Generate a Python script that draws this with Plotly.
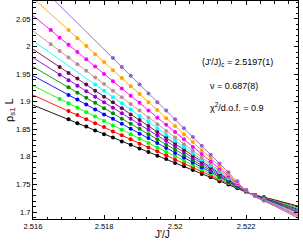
import plotly.graph_objects as go

# ---- data ----
X_GRID = [2.5165, 2.51675, 2.517, 2.51725, 2.5175, 2.51775, 2.518, 2.51825, 2.5185, 2.51875,
          2.519, 2.51925, 2.5195, 2.51975, 2.52, 2.52025, 2.5205, 2.52075, 2.521, 2.52125,
          2.5215, 2.52175, 2.522, 2.52225, 2.5225]

FIT_X = [2.516, 2.519, 2.5213, 2.5221, 2.5228, 2.52346]

names = ["black", "red", "green", "blue", "green4", "violet", "maroon", "cyan", "brown",
         "magenta", "orange", "indigo"]
colors = ["#000000", "#FF0000", "#00FF00", "#0000FF", "#008B00", "#9400D3", "#670748",
          "#00FFFF", "#BC8F8F", "#FF00FF", "#FFA500", "#9060D0"]

start_idx = [2, 2, 1, 2, 2, 1, 1, 5, 0, 0, 2, 7]

pts_black = [1.868, 1.861, 1.855, 1.848, 1.841, 1.835, 1.828, 1.822, 1.815, 1.809, 1.802, 1.796,
             1.789, 1.783, 1.776, 1.769, 1.763, 1.756, 1.750, 1.743, 1.737, 1.731, 1.727]
pts_red = [1.883, 1.876, 1.868, 1.861, 1.854, 1.846, 1.839, 1.832, 1.824, 1.817, 1.810, 1.803,
           1.795, 1.788, 1.781, 1.773, 1.766, 1.759, 1.752, 1.744, 1.737, 1.731, 1.727]
pts_green = [1.905, 1.897, 1.889, 1.881, 1.873, 1.865, 1.857, 1.849, 1.841, 1.833, 1.825, 1.817,
             1.809, 1.801, 1.793, 1.785, 1.777, 1.769, 1.761, 1.753, 1.745, 1.737, 1.731, 1.726]
pts_blue = [1.912, 1.904, 1.895, 1.886, 1.877, 1.869, 1.860, 1.851, 1.842, 1.834, 1.825, 1.816,
            1.807, 1.799, 1.790, 1.781, 1.772, 1.764, 1.755, 1.746, 1.738, 1.731, 1.725]
pts_green4 = [1.926, 1.916, 1.907, 1.898, 1.888, 1.879, 1.869, 1.860, 1.851, 1.841, 1.832, 1.822,
              1.813, 1.804, 1.794, 1.785, 1.775, 1.766, 1.757, 1.747, 1.738, 1.731, 1.725]
pts_violet = [1.949, 1.939, 1.929, 1.919, 1.909, 1.899, 1.889, 1.879, 1.869, 1.859, 1.849, 1.839,
              1.829, 1.819, 1.809, 1.798, 1.788, 1.778, 1.768, 1.758, 1.748, 1.738, 1.730, 1.724]
pts_maroon = [1.963, 1.952, 1.942, 1.931, 1.920, 1.909, 1.899, 1.888, 1.877, 1.867, 1.856, 1.845,
              1.835, 1.824, 1.813, 1.802, 1.792, 1.781, 1.770, 1.760, 1.749, 1.738, 1.730, 1.724]
pts_cyan = [1.931, 1.920, 1.908, 1.897, 1.886, 1.874, 1.863, 1.852, 1.840, 1.829, 1.818, 1.806,
            1.795, 1.784, 1.772, 1.761, 1.750, 1.739, 1.730, 1.723]
pts_brown = [2.004, 1.992, 1.980, 1.968, 1.956, 1.944, 1.932, 1.920, 1.908, 1.896, 1.884, 1.871,
             1.859, 1.847, 1.835, 1.823, 1.811, 1.799, 1.787, 1.775, 1.763, 1.751, 1.739, 1.730, 1.723]
pts_magenta = [2.030, 2.016, 2.003, 1.990, 1.977, 1.964, 1.950, 1.937, 1.924, 1.911, 1.898, 1.884,
               1.871, 1.858, 1.845, 1.832, 1.818, 1.805, 1.792, 1.779, 1.766, 1.752, 1.739, 1.730, 1.722]
pts_orange = [2.030, 2.015, 2.001, 1.986, 1.972, 1.957, 1.943, 1.928, 1.914, 1.899, 1.885, 1.870,
              1.856, 1.841, 1.827, 1.812, 1.798, 1.783, 1.769, 1.754, 1.740, 1.729, 1.721]
pts_indigo = [1.979, 1.963, 1.947, 1.931, 1.915, 1.899, 1.884, 1.868, 1.852, 1.836, 1.820, 1.804,
              1.788, 1.772, 1.756, 1.740, 1.729, 1.721]

fit_black = [1.8939, 1.8153, 1.7550, 1.7340, 1.7221, 1.7108]
fit_red = [1.9120, 1.8245, 1.7574, 1.7340, 1.7211, 1.7089]
fit_green = [1.9291, 1.8332, 1.7596, 1.7340, 1.7200, 1.7069]
fit_blue = [1.9472, 1.8424, 1.7620, 1.7340, 1.7190, 1.7049]
fit_green4 = [1.9634, 1.8506, 1.7641, 1.7340, 1.7180, 1.7030]
fit_violet = [1.9796, 1.8588, 1.7662, 1.7340, 1.7170, 1.7010]
fit_maroon = [1.9950, 1.8666, 1.7682, 1.7340, 1.7160, 1.6990]
fit_cyan = [2.0103, 1.8744, 1.7702, 1.7340, 1.7150, 1.6970]
fit_brown = [2.0283, 1.8836, 1.7726, 1.7340, 1.7140, 1.6951]
fit_magenta = [2.0560, 1.8976, 1.7762, 1.7340, 1.7130, 1.6931]
fit_orange = [2.0879, 1.9138, 1.7804, 1.7340, 1.7119, 1.6911]
fit_indigo = [2.1222, 1.9313, 1.7849, 1.7340, 1.7109, 1.6892]

points = [pts_black, pts_red, pts_green, pts_blue, pts_green4, pts_violet, pts_maroon,
          pts_cyan, pts_brown, pts_magenta, pts_orange, pts_indigo]
fits = [fit_black, fit_red, fit_green, fit_blue, fit_green4, fit_violet, fit_maroon,
        fit_cyan, fit_brown, fit_magenta, fit_orange, fit_indigo]

x_tickvals = [2.516, 2.518, 2.520, 2.522]
x_ticktext = ["2.516", "2.518", "2.52", "2.522"]
y_tickvals = [1.70, 1.75, 1.80, 1.85, 1.90, 1.95, 2.00, 2.05]
y_ticktext = ["1.7", "1.75", "1.8", "1.85", "1.9", "1.95", "2", "2.05"]

# ---- figure ----
fig = go.Figure()
for i in range(len(names)):
    fig.add_trace(go.Scatter(x=FIT_X, y=fits[i], mode="lines",
                             line=dict(color=colors[i], width=0.9, shape="spline"),
                             showlegend=False, hoverinfo="skip"))
for i in range(len(names)):
    xs = X_GRID[start_idx[i]:start_idx[i] + len(points[i])]
    fig.add_trace(go.Scatter(x=xs, y=points[i], mode="markers",
                             marker=dict(color=colors[i], size=4, symbol="circle"),
                             showlegend=False))

FONT = "Liberation Sans, Arial, Helvetica, sans-serif"
axis_common = dict(showline=True, linecolor="black", linewidth=1, mirror="allticks",
                   ticks="inside", ticklen=4, tickwidth=1, tickcolor="black",
                   showgrid=False, zeroline=False,
                   tickfont=dict(family=FONT, size=7.5, color="black"))

fig.update_xaxes(range=[2.516, 2.52346], tickmode="array", tickvals=x_tickvals,
                 ticktext=x_ticktext,
                 minor=dict(ticks="inside", ticklen=2.5, tickcolor="black",
                            tick0=2.516, dtick=0.0004),
                 **axis_common)
fig.update_yaxes(range=[1.6874, 2.0825], tickmode="array", tickvals=y_tickvals,
                 ticktext=y_ticktext,
                 minor=dict(ticks="inside", ticklen=2.5, tickcolor="black",
                            tick0=1.7, dtick=0.01),
                 **axis_common)

ann_font = dict(family=FONT, size=9, color="black")
fig.update_layout(
    width=303, height=241,
    margin=dict(l=33, r=5, t=1, b=22),
    paper_bgcolor="white", plot_bgcolor="white",
    annotations=[
        dict(text="(J'/J)<sub>c</sub> = 2.5197(1)", x=0.770, y=0.716, xref="paper", yref="paper",
             showarrow=False, font=ann_font, xanchor="center", yanchor="middle"),
        dict(text="ν = 0.687(8)", x=0.758, y=0.610, xref="paper", yref="paper",
             showarrow=False, font=ann_font, xanchor="center", yanchor="middle"),
        dict(text="χ<sup>2</sup>/d.o.f. = 0.9", x=0.770, y=0.514, xref="paper", yref="paper",
             showarrow=False, font=ann_font, xanchor="center", yanchor="middle"),
        dict(text="J'/J", x=0.487, y=-0.069, xref="paper", yref="paper", showarrow=False,
             font=dict(family=FONT, size=10, color="black"), xanchor="center", yanchor="middle"),
        dict(text="ρ<sub>s1</sub> L", x=-0.087, y=0.5, xref="paper", yref="paper",
             showarrow=False, textangle=-90,
             font=dict(family=FONT, size=11, color="black"), xanchor="center", yanchor="middle"),
    ],
)

fig.write_html("out.html", config={"displayModeBar": False},
               post_script="document.body.style.margin='0px';document.body.style.overflow='hidden';")
